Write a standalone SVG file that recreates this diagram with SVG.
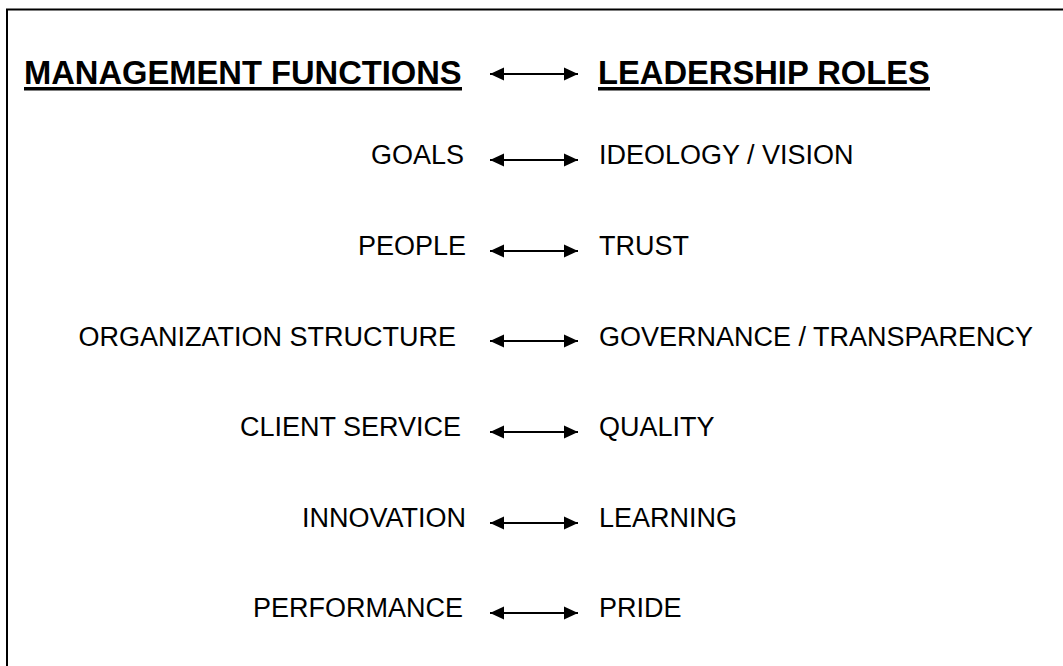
<svg xmlns="http://www.w3.org/2000/svg" width="1063" height="666" viewBox="0 0 1063 666">
<style>
.t{font-family:"Liberation Sans",Arial,sans-serif;font-size:27px;fill:#000}
.h{font-family:"Liberation Sans",Arial,sans-serif;font-size:32.7px;font-weight:bold;fill:#000}
.c{stroke:#000;stroke-width:2;fill:none;marker-start:url(#a);marker-end:url(#a)}
</style>
<defs>
<marker id="a" markerUnits="userSpaceOnUse" markerWidth="16" markerHeight="14" refX="14" refY="7" orient="auto-start-reverse">
<path d="M0,0.5 L14,7 L0,13.5 Z" fill="#000"/>
</marker>
</defs>
<rect x="7" y="9.5" width="1080" height="680" fill="#fff" stroke="#000" stroke-width="2"/>
<g id="title-left"><text class="h" x="24" y="84">MANAGEMENT FUNCTIONS</text><rect x="24" y="87" width="438" height="3.5" fill="#000"/></g>
<g id="title-right"><text class="h" x="598" y="84">LEADERSHIP ROLES</text><rect x="598" y="87" width="332" height="3.5" fill="#000"/></g>
<g id="l1"><text class="t" x="464" y="164" text-anchor="end">GOALS</text></g>
<g id="r1"><text class="t" x="599" y="164">IDEOLOGY / VISION</text></g>
<g id="l2"><text class="t" x="466" y="255" text-anchor="end">PEOPLE</text></g>
<g id="r2"><text class="t" x="599" y="255">TRUST</text></g>
<g id="l3"><text class="t" x="456" y="346" text-anchor="end">ORGANIZATION STRUCTURE</text></g>
<g id="r3"><text class="t" x="599" y="346">GOVERNANCE / TRANSPARENCY</text></g>
<g id="l4"><text class="t" x="461" y="436" text-anchor="end">CLIENT SERVICE</text></g>
<g id="r4"><text class="t" x="599" y="436">QUALITY</text></g>
<g id="l5"><text class="t" x="466" y="527" text-anchor="end">INNOVATION</text></g>
<g id="r5"><text class="t" x="599" y="527">LEARNING</text></g>
<g id="l6"><text class="t" x="463" y="617" text-anchor="end">PERFORMANCE</text></g>
<g id="r6"><text class="t" x="599" y="617">PRIDE</text></g>
<g id="connectors">
<line class="c" x1="490" y1="74" x2="578" y2="74"/>
<line class="c" x1="490" y1="160" x2="578" y2="160"/>
<line class="c" x1="490" y1="251" x2="578" y2="251"/>
<line class="c" x1="490" y1="341" x2="578" y2="341"/>
<line class="c" x1="490" y1="432" x2="578" y2="432"/>
<line class="c" x1="490" y1="523" x2="578" y2="523"/>
<line class="c" x1="490" y1="613" x2="578" y2="613"/>
</g>
</svg>
